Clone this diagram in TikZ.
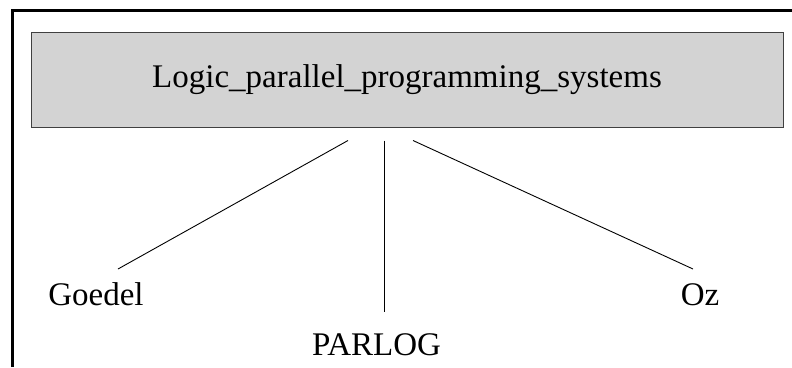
\documentclass[tikz,border=0pt]{standalone}
\usepackage{fontspec}
\setmainfont{Liberation Serif}
\usetikzlibrary{positioning}
\definecolor{boxgray}{HTML}{D3D3D3}
\definecolor{edgegray}{HTML}{404040}

\begin{document}
\begin{tikzpicture}[x=1pt, y=-1pt, font=\fontsize{33}{36}\selectfont,
                    root/.style={draw=edgegray, fill=boxgray, line width=1pt,
                                 minimum width=752pt, minimum height=95pt, inner sep=0pt},
                    leaf/.style={anchor=base, inner sep=0pt},
                    link/.style={draw=black, line width=0.9pt}]
    \useasboundingbox (0,0) rectangle (792,367);
    \draw[line width=3pt] (12.5,367) -- (12.5,10.5) -- (792,10.5);

    \node[root] (lps) at (407,79.5) {Logic\_parallel\_programming\_systems};

    \node[leaf] (goedel) at (96,305) {Goedel};
    \node[leaf] (parlog) at (376.5,355) {PARLOG};
    \node[leaf] (oz) at (700,305) {Oz};

    \coordinate (s1) at ([xshift=-59pt,yshift=-13pt]lps.south);
    \coordinate (s2) at ([xshift=-23pt,yshift=-13pt]lps.south);
    \coordinate (s3) at ([xshift=6pt,yshift=-13pt]lps.south);
    \coordinate (e1) at (118,269);
    \coordinate (e2) at (384,312);
    \coordinate (e3) at (693,269);

    \path[link]
    (s1) edge (e1)
    (s2) edge (e2)
    (s3) edge (e3);
\end{tikzpicture}
\end{document}
